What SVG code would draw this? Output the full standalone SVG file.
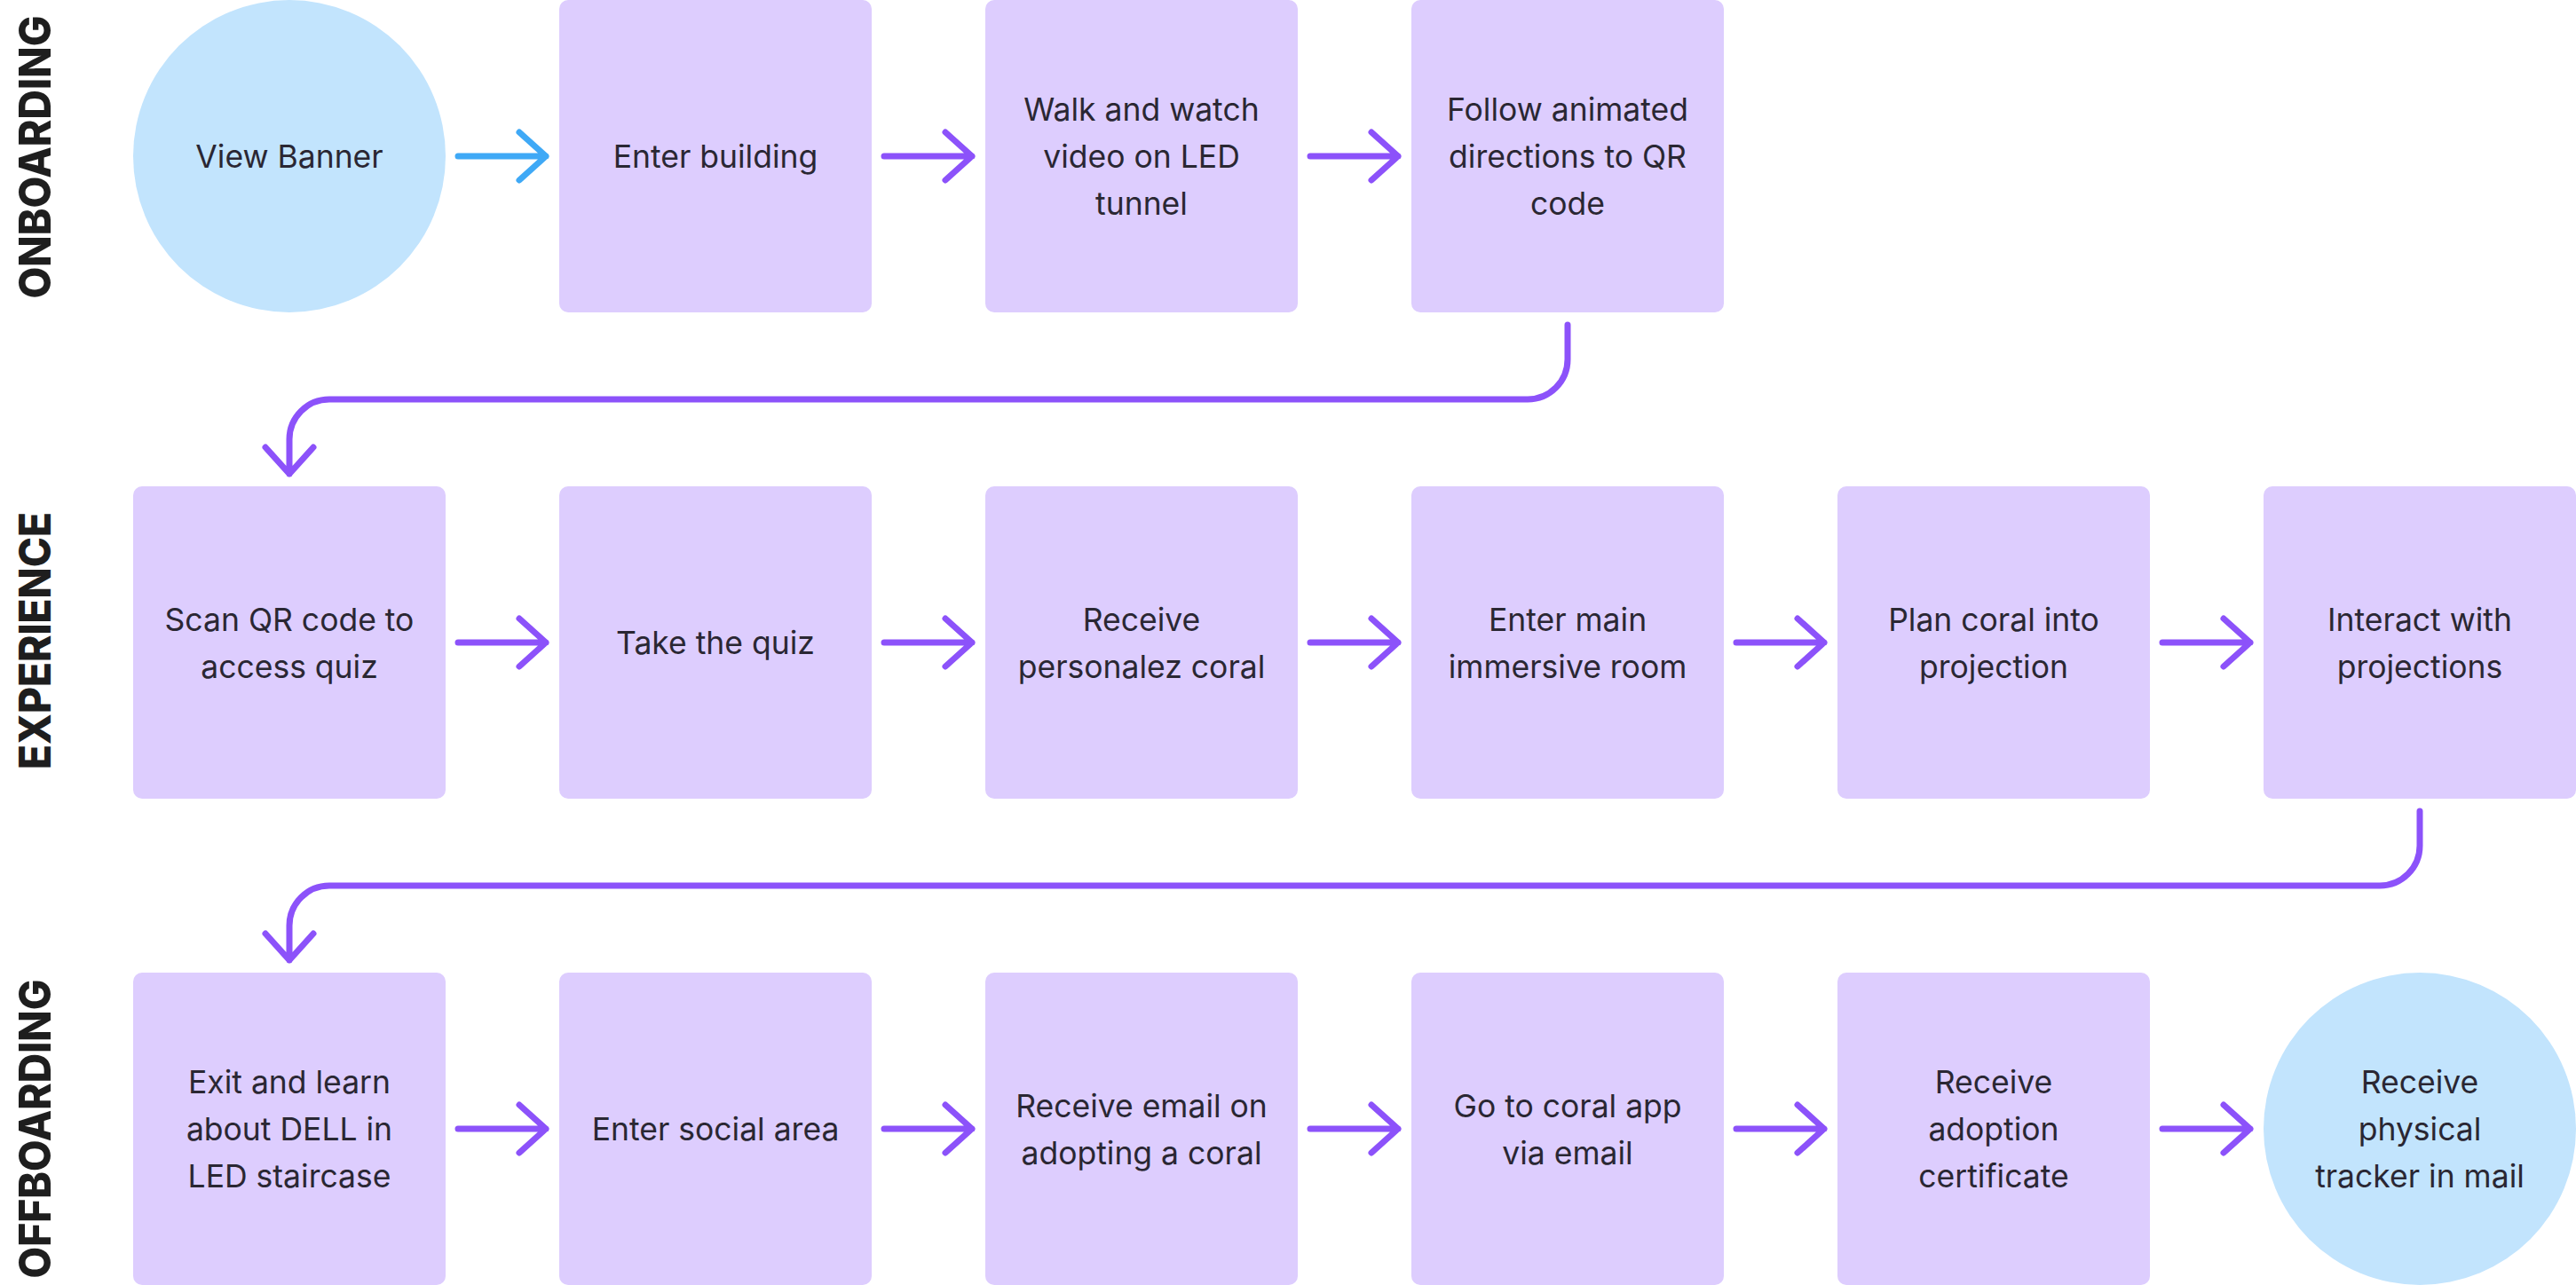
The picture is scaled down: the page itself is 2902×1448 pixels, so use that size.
<svg xmlns="http://www.w3.org/2000/svg" width="2902" height="1448" viewBox="0 0 2902 1448">
<style>
.box{fill:#DDCDFE}
.circ{fill:#C2E4FD}
.t{font-family:Inter,"Noto Sans","Liberation Sans",sans-serif;font-size:35.5px;fill:#2A2733;text-anchor:middle}
.lane{font-family:Inter,"Liberation Sans",sans-serif;font-weight:800;font-size:50px;fill:#1E1E1E;text-anchor:middle}
.c{fill:none;stroke:#8C52FA;stroke-width:7;stroke-linecap:round;stroke-linejoin:round}
.cb{stroke:#3FA9F6}
</style>
<rect width="2902" height="1448" fill="#FFFFFF"/>
<g id="lanes">
<text class="lane" transform="translate(57,177) rotate(-90)" textLength="319" lengthAdjust="spacingAndGlyphs">ONBOARDING</text>
<text class="lane" transform="translate(57,722) rotate(-90)" textLength="290" lengthAdjust="spacingAndGlyphs">EXPERIENCE</text>
<text class="lane" transform="translate(57,1272) rotate(-90)" textLength="337" lengthAdjust="spacingAndGlyphs">OFFBOARDING</text>
</g>
<g id="connectors">
<path class="c cb" d="M516 176H615M585 149L615 176L585 203"/>
<path class="c" d="M996 176H1095M1065 149L1095 176L1065 203"/>
<path class="c" d="M1476 176H1575M1545 149L1575 176L1545 203"/>
<path class="c" d="M1766 366V405A45 45 0 0 1 1721 450H371A45 45 0 0 0 326 495V534M299 504L326 534L353 504"/>
<path class="c" d="M516 724H615M585 697L615 724L585 751"/>
<path class="c" d="M996 724H1095M1065 697L1095 724L1065 751"/>
<path class="c" d="M1476 724H1575M1545 697L1575 724L1545 751"/>
<path class="c" d="M1956 724H2055M2025 697L2055 724L2025 751"/>
<path class="c" d="M2436 724H2535M2505 697L2535 724L2505 751"/>
<path class="c" d="M2726 914V953A45 45 0 0 1 2681 998H371A45 45 0 0 0 326 1043V1082M299 1052L326 1082L353 1052"/>
<path class="c" d="M516 1272H615M585 1245L615 1272L585 1299"/>
<path class="c" d="M996 1272H1095M1065 1245L1095 1272L1065 1299"/>
<path class="c" d="M1476 1272H1575M1545 1245L1575 1272L1545 1299"/>
<path class="c" d="M1956 1272H2055M2025 1245L2055 1272L2025 1299"/>
<path class="c" d="M2436 1272H2535M2505 1245L2535 1272L2505 1299"/>
</g>
<g id="n1"><circle class="circ" cx="326" cy="176" r="176"/><text class="t" x="326" y="189">View Banner</text></g>
<g id="n2"><rect class="box" x="630" y="0" width="352" height="352" rx="10"/><text class="t" x="806" y="189">Enter building</text></g>
<g id="n3"><rect class="box" x="1110" y="0" width="352" height="352" rx="10"/><text class="t" x="1286" y="136">Walk and watch</text><text class="t" x="1286" y="189">video on LED</text><text class="t" x="1286" y="242">tunnel</text></g>
<g id="n4"><rect class="box" x="1590" y="0" width="352" height="352" rx="10"/><text class="t" x="1766" y="136">Follow animated</text><text class="t" x="1766" y="189">directions to QR</text><text class="t" x="1766" y="242">code</text></g>
<g id="n5"><rect class="box" x="150" y="548" width="352" height="352" rx="10"/><text class="t" x="326" y="711">Scan QR code to</text><text class="t" x="326" y="764">access quiz</text></g>
<g id="n6"><rect class="box" x="630" y="548" width="352" height="352" rx="10"/><text class="t" x="806" y="737">Take the quiz</text></g>
<g id="n7"><rect class="box" x="1110" y="548" width="352" height="352" rx="10"/><text class="t" x="1286" y="711">Receive</text><text class="t" x="1286" y="764">personalez coral</text></g>
<g id="n8"><rect class="box" x="1590" y="548" width="352" height="352" rx="10"/><text class="t" x="1766" y="711">Enter main</text><text class="t" x="1766" y="764">immersive room</text></g>
<g id="n9"><rect class="box" x="2070" y="548" width="352" height="352" rx="10"/><text class="t" x="2246" y="711">Plan coral into</text><text class="t" x="2246" y="764">projection</text></g>
<g id="n10"><rect class="box" x="2550" y="548" width="352" height="352" rx="10"/><text class="t" x="2726" y="711">Interact with</text><text class="t" x="2726" y="764">projections</text></g>
<g id="n11"><rect class="box" x="150" y="1096" width="352" height="352" rx="10"/><text class="t" x="326" y="1232">Exit and learn</text><text class="t" x="326" y="1285">about DELL in</text><text class="t" x="326" y="1338">LED staircase</text></g>
<g id="n12"><rect class="box" x="630" y="1096" width="352" height="352" rx="10"/><text class="t" x="806" y="1285">Enter social area</text></g>
<g id="n13"><rect class="box" x="1110" y="1096" width="352" height="352" rx="10"/><text class="t" x="1286" y="1259">Receive email on</text><text class="t" x="1286" y="1312">adopting a coral</text></g>
<g id="n14"><rect class="box" x="1590" y="1096" width="352" height="352" rx="10"/><text class="t" x="1766" y="1259">Go to coral app</text><text class="t" x="1766" y="1312">via email</text></g>
<g id="n15"><rect class="box" x="2070" y="1096" width="352" height="352" rx="10"/><text class="t" x="2246" y="1232">Receive</text><text class="t" x="2246" y="1285">adoption</text><text class="t" x="2246" y="1338">certificate</text></g>
<g id="n16"><circle class="circ" cx="2726" cy="1272" r="176"/><text class="t" x="2726" y="1232">Receive</text><text class="t" x="2726" y="1285">physical</text><text class="t" x="2726" y="1338">tracker in mail</text></g>
</svg>
